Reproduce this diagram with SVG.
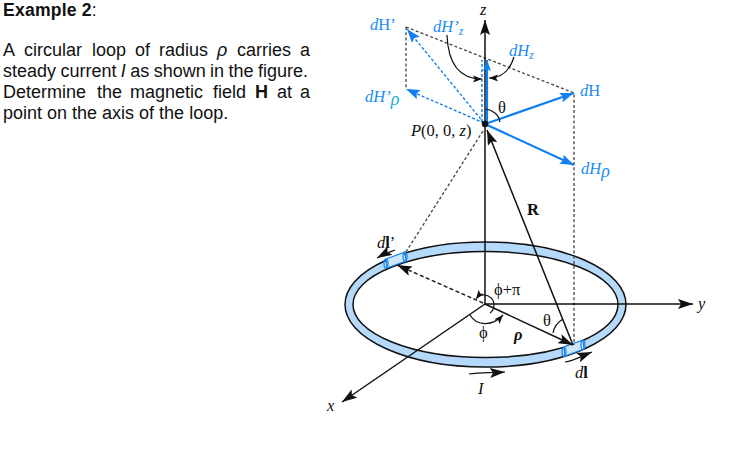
<svg xmlns="http://www.w3.org/2000/svg" width="736" height="460" viewBox="0 0 736 460">
<style>
.t{font-family:"Liberation Sans",Arial,sans-serif;font-size:18px;fill:#111}
.s{font-family:"Liberation Serif","Times New Roman",serif;font-size:16.500px;fill:#111}
.b{font-family:"Liberation Serif","Times New Roman",serif;font-size:16.500px;fill:#1a8cf0}
.k{fill:none;stroke:#111;stroke-width:1.500}
.t1{fill:none;stroke:#111;stroke-width:1.200}
.d{fill:none;stroke:#444;stroke-width:1.300;stroke-dasharray:3 2.200}
.d2{fill:none;stroke:#222;stroke-width:1.500;stroke-dasharray:4 2.500}
.bl{fill:none;stroke:#1080f0;stroke-width:2.200}
.bd{fill:none;stroke:#1080f0;stroke-width:1.400;stroke-dasharray:3 2}
.seg{fill:#cfe6fb;stroke:#1080f0;stroke-width:1.200}
.ring{fill:none;stroke:#1080f0;stroke-width:1.200}
</style>
<defs>
<marker id="ak" markerUnits="userSpaceOnUse" markerWidth="16" markerHeight="10" refX="15" refY="5" orient="auto"><path d="M0 0L15 5L0 10L3 5Z" fill="#111"/></marker>
<marker id="as" markerUnits="userSpaceOnUse" markerWidth="10" markerHeight="8" refX="9" refY="4" orient="auto"><path d="M0 0.500L9 4L0 7.500L2 4Z" fill="#111"/></marker>
<marker id="ab" markerUnits="userSpaceOnUse" markerWidth="15" markerHeight="10" refX="14" refY="5" orient="auto"><path d="M0 0L14 5L0 10L2.500 5Z" fill="#1080f0"/></marker>
<marker id="ab2" markerUnits="userSpaceOnUse" markerWidth="12" markerHeight="8" refX="11" refY="4" orient="auto"><path d="M0 0L11 4L0 8L2 4Z" fill="#1080f0"/></marker>
</defs>
<g id="problem-text">
<text class="t" x="3" y="16" font-weight="bold" style="font-size:17.600px" letter-spacing="0.200">Example 2<tspan font-weight="normal">:</tspan></text>
<text class="t" x="3" y="56">A</text><text class="t" x="24" y="56">circular</text><text class="t" x="92" y="56">loop</text><text class="t" x="135" y="56">of</text><text class="t" x="159" y="56">radius</text><text class="t" x="217" y="56" font-style="italic" font-family="Liberation Serif">ρ</text><text class="t" x="237" y="56">carries</text><text class="t" x="300" y="56">a</text>
<text class="t" x="3" y="77" word-spacing="-0.600">steady current <tspan font-style="italic">I</tspan> as shown in the figure.</text>
<text class="t" x="3" y="98">Determine</text><text class="t" x="97" y="98">the</text><text class="t" x="130" y="98">magnetic</text><text class="t" x="213" y="98">field</text><text class="t" x="255" y="98" font-weight="bold">H</text><text class="t" x="277" y="98">at</text><text class="t" x="300" y="98">a</text>
<text class="t" x="3" y="119">point on the axis of the loop.</text>
</g>
<g id="loop">
<path fill-rule="evenodd" d="M345 304.500a140.500 62.500 0 1 0 281 0a140.500 62.500 0 1 0-281 0ZM353 304.500a132.500 53 0 1 1 265 0a132.500 53 0 1 1-265 0Z" fill="#b5d9fa" stroke="#111" stroke-width="1.500"/>
<path class="seg" d="M386 259L405 252L406 261L387 268Z"/>
<ellipse class="ring" cx="386" cy="263.500" rx="2" ry="4.500"/>
<ellipse class="ring" cx="405" cy="256.500" rx="2" ry="4.500"/>
<path class="seg" d="M564 347L583 340L584 349L565 356Z"/>
<ellipse class="ring" cx="564" cy="352" rx="2" ry="4.500"/>
<ellipse class="ring" cx="583" cy="345" rx="2" ry="4.500"/>
</g>
<g id="connectors">
<path class="d" d="M406 27L574 93V345M406 27V89"/>
<path class="d" d="M483 131L404 255"/>
<path class="k" d="M485 304V20" marker-end="url(#ak)"/>
<path class="k" d="M485 304H693" marker-end="url(#ak)"/>
<path class="k" d="M485 304L342 402" marker-end="url(#ak)"/>
<path class="k" d="M485 304L573 345" marker-end="url(#ak)"/>
<path class="k" d="M573 345L487 130" marker-end="url(#ak)"/>
<path class="d2" d="M483 303L397 265" marker-end="url(#ak)"/>
<path class="bl" d="M487 124V60" marker-end="url(#ab2)"/>
<path class="bl" d="M485 124L574 93" marker-end="url(#ab)"/>
<path class="bl" d="M485 124L574 165" marker-end="url(#ab)"/>
<path class="bd" d="M482 122V60"/>
<path class="bd" d="M484 123L407 29" marker-end="url(#ab)"/>
<path class="bd" d="M484 123L406 89" marker-end="url(#ab)"/>
<circle cx="485" cy="124" r="3.200" fill="#111"/>
<path class="t1" d="M447 35C448 62 458 79 482 79" marker-end="url(#as)"/>
<path class="t1" d="M514 57C510 70 503 78 489 78" marker-end="url(#as)"/>
<path class="t1" d="M486 109C493 110 499 115 500 122"/>
<path class="t1" d="M553 333C554 327 558 322 563 319"/>
<path class="t1" d="M490 313A10 10 0 1 0 476 299" marker-end="url(#as)"/>
<path class="t1" d="M470 315C477 327 493 326 503 315" marker-end="url(#as)"/>
<path class="t1" d="M469 374C480 372 490 373 505 372" marker-end="url(#ak)"/>
<path class="t1" d="M565 362C573 361 582 356 592 352" marker-end="url(#ak)"/>
<path class="t1" d="M395 250C390 252 384 254 377 258" marker-end="url(#ak)"/>
</g>
<g id="labels">
<text class="s" x="480" y="15" font-style="italic">z</text>
<text class="b" x="370" y="30"><tspan font-style="italic">d</tspan>H’</text>
<text class="b" x="433" y="32" font-style="italic">dH’<tspan font-size="12" dy="3">z</tspan></text>
<text class="b" x="509" y="56" font-style="italic">dH<tspan font-size="12" dy="3">z</tspan></text>
<text class="b" x="365" y="102" font-style="italic">dH’<tspan font-size="18" dy="3" fill="#20a8e0">ρ</tspan></text>
<text class="b" x="580" y="96"><tspan font-style="italic">d</tspan>H</text>
<text class="b" x="581" y="174" font-style="italic">dH<tspan font-size="18" dy="3">ρ</tspan></text>
<text class="s" x="498" y="113">θ</text>
<text class="s" x="411" y="136"><tspan font-style="italic">P</tspan>(0, 0, <tspan font-style="italic">z</tspan>)</text>
<text class="s" x="527" y="215" font-weight="bold">R</text>
<text class="s" x="377" y="248"><tspan font-style="italic">d</tspan><tspan font-weight="bold">l</tspan>’</text>
<text class="s" x="494" y="295">ϕ+π</text>
<text class="s" x="479" y="338">ϕ</text>
<text class="s" x="543" y="326">θ</text>
<text class="s" x="514" y="340" font-style="italic" font-weight="bold" font-size="19">ρ</text>
<text class="s" x="698" y="309" font-style="italic">y</text>
<text class="s" x="575" y="378"><tspan font-style="italic">d</tspan><tspan font-weight="bold">l</tspan></text>
<text class="s" x="478" y="394" font-style="italic">I</text>
<text class="s" x="327" y="411" font-style="italic">x</text>
</g>
</svg>
